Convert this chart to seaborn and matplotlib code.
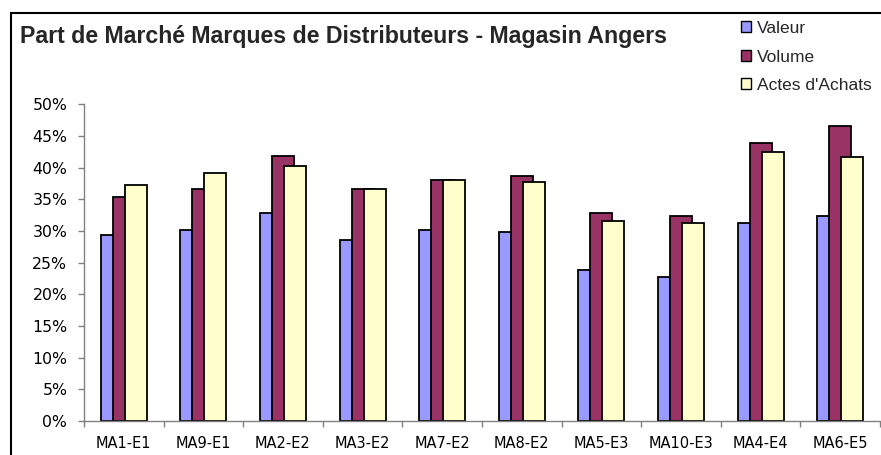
import matplotlib
matplotlib.use("Agg")
import matplotlib.pyplot as plt
import seaborn as sns
import pandas as pd
from matplotlib.patches import Patch, Rectangle
from matplotlib.ticker import PercentFormatter, FixedLocator

categories = ["MA1-E1", "MA9-E1", "MA2-E2", "MA3-E2", "MA7-E2",
              "MA8-E2", "MA5-E3", "MA10-E3", "MA4-E4", "MA6-E5"]
series = ["Valeur", "Volume", "Actes d'Achats"]
valeur = [29.4, 30.1, 32.8, 28.6, 30.1, 29.8, 23.9, 22.7, 31.3, 32.3]
volume = [35.3, 36.6, 41.9, 36.7, 38.0, 38.7, 32.8, 32.3, 43.9, 46.6]
actes = [37.2, 39.2, 40.2, 36.7, 38.0, 37.7, 31.5, 31.3, 42.4, 41.7]
colors = ["#9999FF", "#993366", "#FFFFCC"]
title = "Part de Marché Marques de Distributeurs - Magasin Angers"

df = pd.DataFrame({
    "cat": categories * 3,
    "serie": [series[0]] * 10 + [series[1]] * 10 + [series[2]] * 10,
    "val": valeur + volume + actes,
})

sns.set_style("white")
plt.rcParams["font.family"] = ["DejaVu Sans"]

fig = plt.figure(figsize=(8.81, 4.55), dpi=100)
ax = fig.add_axes([84 / 881, 1 - 421 / 455, 796 / 881, (421 - 104.3) / 455])

sns.barplot(data=df, x="cat", y="val", hue="serie", order=categories,
            hue_order=series, palette=colors, dodge=True, width=0.8,
            edgecolor="black", linewidth=1.3, saturation=1, legend=False, ax=ax)

# Excel-style overlapping bars
step = 0.151
bw = 0.277
slot = 0.8 / 3
for p in ax.patches:
    cx = p.get_x() + p.get_width() / 2
    c = round(cx)
    k = round((cx - c) / slot)
    nc = c + k * step
    p.set_x(nc - bw / 2)
    p.set_width(bw)

ax.set_xlim(-0.5, len(categories) - 0.5)
ax.set_ylim(0, 50)
ax.yaxis.set_major_locator(FixedLocator(list(range(0, 51, 5))))
ax.yaxis.set_major_formatter(PercentFormatter(xmax=100, decimals=0))
ax.set_xlabel("")
ax.set_ylabel("")

for s in ["top", "right"]:
    ax.spines[s].set_visible(False)
for s in ["left", "bottom"]:
    ax.spines[s].set_color("#808080")
    ax.spines[s].set_linewidth(1.0)

ax.xaxis.set_minor_locator(FixedLocator([i - 0.5 for i in range(len(categories) + 1)]))
ax.tick_params(axis="x", which="major", length=0, pad=10.5, labelsize=10.5, labelcolor="black")
ax.tick_params(axis="x", which="minor", length=4.5, width=1, color="#808080", direction="out")
ax.tick_params(axis="y", which="major", length=4.5, width=1, color="#808080",
               direction="out", pad=7.5, labelsize=11.3, labelcolor="black")
ax.tick_params(left=True, bottom=True)
ax.tick_params(axis="x", which="minor", bottom=True)
ax.grid(False)

fig.text(20 / 881, 1 - 37 / 455, title, fontsize=16.7, fontweight="bold",
         family=["Liberation Sans", "DejaVu Sans"], va="center", ha="left")

handles = [Patch(facecolor=c, edgecolor="black", linewidth=1.0) for c in colors]
fig.legend(handles, series, loc="upper left", bbox_to_anchor=(741 / 881, 1 - 21 / 455),
           frameon=False, handlelength=0.6, handleheight=0.6, handletextpad=0.3,
           labelspacing=0.78, borderpad=0, borderaxespad=0,
           prop={"family": ["Liberation Sans", "DejaVu Sans"], "size": 12.5})

fig.patches.append(Rectangle((11 / 881, -0.2), 1.2, 1.2 - 13 / 455 + 0.0,
                             transform=fig.transFigure, fill=False,
                             edgecolor="black", linewidth=1.5))

fig.savefig("out.png", dpi=100)
